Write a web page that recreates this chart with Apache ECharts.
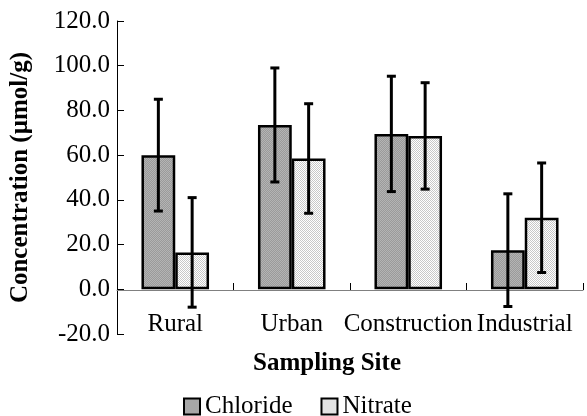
<!DOCTYPE html>
<html>
<head>
<meta charset="utf-8">
<script src="https://cdn.jsdelivr.net/npm/echarts@6/dist/echarts.min.js"></script>
<style>html,body{margin:0;padding:0;background:#fff}#c{width:587px;height:416px}</style>
</head>
<body>
<div id="c"></div>
<script>
var categories = ['Rural', 'Urban', 'Construction', 'Industrial'];
var chloride = [60.0, 73.5, 69.5, 17.5];
var chlorideErr = [25.0, 25.5, 25.8, 25.2];
var nitrate = [16.5, 58.5, 68.6, 32.0];
var nitrateErr = [24.5, 24.5, 23.8, 24.5];
var yTicks = { min: -20, max: 120, interval: 20 };

function makePattern(a, b) {
  var c = document.createElement('canvas');
  c.width = 2; c.height = 2;
  var g = c.getContext('2d');
  g.fillStyle = a; g.fillRect(0, 0, 2, 2);
  g.fillStyle = b; g.fillRect(0, 0, 1, 1); g.fillRect(1, 1, 1, 1);
  return c;
}
var chlPat = { image: makePattern('#9a9a9a', '#b4b4b4'), repeat: 'repeat' };
var nitPat = { image: makePattern('#ffffff', '#c8c8c8'), repeat: 'repeat' };

var FONT = 'Liberation Serif';
var GAP = 0.42;

function errSeries(vals, errs, side) {
  var data = vals.map(function (v, i) { return [i, v - errs[i], v + errs[i]]; });
  return {
    type: 'custom',
    z: 10,
    silent: true,
    data: data,
    renderItem: function (params, api) {
      var i = api.value(0);
      var lo = api.coord([i, api.value(1)]);
      var hi = api.coord([i, api.value(2)]);
      var band = api.size([1, 0])[0];
      var off = band * (1 - GAP) / 4 * side;
      var x = lo[0] + off;
      var cap = 4.5;
      var st = { stroke: '#000', lineWidth: 3 };
      return {
        type: 'group',
        children: [
          { type: 'line', shape: { x1: x, y1: lo[1], x2: x, y2: hi[1] }, style: st },
          { type: 'line', shape: { x1: x - cap, y1: lo[1], x2: x + cap, y2: lo[1] }, style: st },
          { type: 'line', shape: { x1: x - cap, y1: hi[1], x2: x + cap, y2: hi[1] }, style: st }
        ]
      };
    }
  };
}

var chart = echarts.init(document.getElementById('c'), null, { renderer: 'canvas' });
chart.setOption({
  animation: false,
  backgroundColor: '#fff',
  textStyle: { fontFamily: FONT, color: '#000' },
  grid: { left: 117, right: 4, top: 21, bottom: 82, containLabel: false, outerBoundsMode: 'none' },
  legend: {
    left: 183,
    top: 394,
    icon: 'rect',
    itemWidth: 16,
    itemHeight: 16,
    itemGap: 28,
    padding: 0,
    textStyle: { fontFamily: FONT, fontSize: 25, color: '#000' },
    data: ['Chloride', 'Nitrate']
  },
  graphic: [{
    type: 'text',
    x: 327,
    y: 364,
    style: { text: 'Sampling Site', font: 'bold 25px "Liberation Serif"', fill: '#000', align: 'center', verticalAlign: 'middle' }
  }],
  xAxis: [
    {
      type: 'category',
      data: categories,
      position: 'bottom',
      axisLine: { show: false, onZero: false },
      axisTick: { show: false },
      axisLabel: { inside: true, margin: -3, interval: 0, hideOverlap: false, fontFamily: FONT, fontSize: 25, color: '#000' }
    },
    {
      type: 'category',
      data: categories,
      position: 'bottom',
      offset: -44,
      axisLine: { show: true, onZero: false, lineStyle: { color: '#808080', width: 1 } },
      axisTick: { show: true, inside: true, length: 7, lineStyle: { color: '#000' } },
      axisLabel: { show: false }
    }
  ],
  yAxis: {
    type: 'value',
    min: yTicks.min,
    max: yTicks.max,
    interval: yTicks.interval,
    name: 'Concentration (µmol/g)',
    nameLocation: 'middle',
    nameGap: 84,
    nameTextStyle: { fontFamily: FONT, fontSize: 25, fontWeight: 'bold', color: '#000' },
    axisLine: { show: true, onZero: false, lineStyle: { color: '#000', width: 1 } },
    axisTick: { show: true, inside: true, length: 7, lineStyle: { color: '#000' } },
    splitLine: { show: false },
    axisLabel: {
      margin: 7, fontFamily: FONT, fontSize: 25, color: '#000',
      formatter: function (v) { return v.toFixed(1); }
    }
  },
  series: [
    {
      name: 'Chloride', type: 'bar', data: chloride,
      barGap: '0%', barCategoryGap: (GAP * 100) + '%',
      itemStyle: { color: chlPat, borderColor: '#000', borderWidth: 2.5 }
    },
    {
      name: 'Nitrate', type: 'bar', data: nitrate,
      itemStyle: { color: nitPat, borderColor: '#000', borderWidth: 2.5 }
    },
    errSeries(chloride, chlorideErr, -1),
    errSeries(nitrate, nitrateErr, 1)
  ]
});
</script>
</body>
</html>
